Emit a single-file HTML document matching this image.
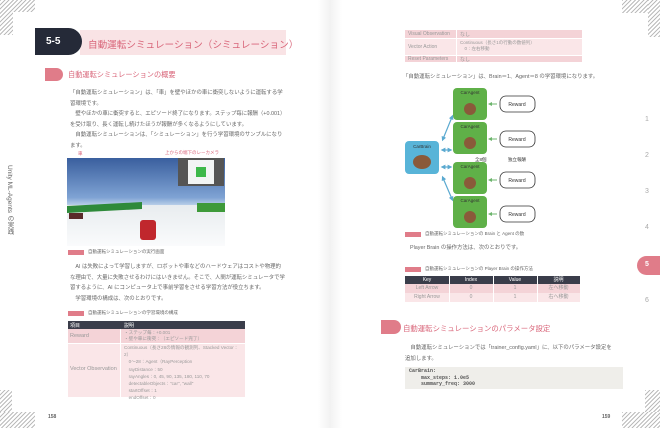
<!DOCTYPE html>
<html><head><meta charset="utf-8"><style>
*{margin:0;padding:0;box-sizing:border-box}
body{width:660px;height:428px;background:#fff;position:relative;overflow:hidden;font-family:"Liberation Sans","Noto Sans CJK JP",sans-serif;color:#777}
.a{position:absolute;white-space:nowrap}
.t{font-size:5.4px;line-height:10.5px;color:#666}
.stripe{position:absolute;background:repeating-linear-gradient(135deg,#bbb 0 1px,#fff 1px 3px)}
</style></head><body>
<div class="a" style="left:318px;top:0;width:24px;height:428px;background:linear-gradient(90deg,#fff,#f2f2f2 50%,#fff)"></div>
<div class="stripe" style="left:0;top:0;width:35px;height:12px"></div>
<div class="stripe" style="left:0;top:0;width:13px;height:35px"></div>
<div class="stripe" style="left:0;top:390px;width:12px;height:38px"></div>
<div class="stripe" style="left:0;top:412px;width:35px;height:16px"></div>
<div class="stripe" style="left:622px;top:0;width:38px;height:13px"></div>
<div class="stripe" style="left:648px;top:0;width:12px;height:37px"></div>
<div class="stripe" style="left:645px;top:390px;width:15px;height:38px"></div>
<div class="stripe" style="left:622px;top:412px;width:38px;height:16px"></div>

<!-- left page header -->
<div class="a" style="left:80px;top:30px;width:206px;height:25px;background:#f9e3e5"></div>
<div class="a" style="left:35px;top:28px;width:47px;height:27px;background:#252a38;border-radius:0 14px 14px 0"></div>
<div class="a" style="left:46px;top:36px;font-size:10px;font-weight:bold;color:#fff">5-5</div>
<div class="a" style="left:88px;top:37px;font-size:9.6px;color:#d9667a">自動運転シミュレーション（シミュレーション）</div>
<div class="a" style="left:45px;top:68px;width:18px;height:13px;background:#e07c89;border-radius:0 7px 7px 0"></div>
<div class="a" style="left:68px;top:70px;font-size:7.2px;color:#d9667a">自動運転シミュレーションの概要</div>
<div class="a t" style="left:70px;top:88px">「自動運転シミュレーション」は、「車」を壁やほかの車に衝突しないように運転する学<br>習環境です。<br>　壁やほかの車に衝突すると、エピソード終了になります。ステップ毎に報酬（+0.001）<br>を受け取り、長く運転し続けたほうが報酬が多くなるようにしています。<br>　自動運転シミュレーションは、「シミュレーション」を行う学習環境のサンプルになり<br>ます。</div>
<div class="a" style="left:78px;top:151px;font-size:4.5px;color:#d9667a">車</div>
<div class="a" style="left:165px;top:150px;font-size:4.5px;color:#d9667a">上からの端下のレーカメラ</div>
<div class="a" style="left:67px;top:158px;width:158px;height:88px;background:linear-gradient(180deg,#3a5f9e,#7fa3d4 45%,#c3d6ec 55%,#eef2f8)"></div>
<div class="a" style="left:67px;top:205px;width:158px;height:41px;background:linear-gradient(180deg,#e8ecef,#fafbfc)"></div>
<div class="a" style="left:67px;top:204px;width:75px;height:7px;background:#2e8a3a;transform:skewY(-3deg)"></div>
<div class="a" style="left:197px;top:203px;width:28px;height:9px;background:#3e9a3a"></div>
<div class="a" style="left:178px;top:158px;width:46px;height:28px;background:#555"></div>
<div class="a" style="left:188px;top:160px;width:26px;height:24px;background:#f2f4f4"></div>
<div class="a" style="left:196px;top:167px;width:10px;height:10px;background:#3db84a"></div>
<div class="a" style="left:140px;top:220px;width:16px;height:20px;background:#c0272d;border-radius:3px"></div>
<div class="a" style="left:69px;top:213px;width:14px;height:6px;background:#5a2a2a"></div>
<div class="a" style="left:68px;top:250px;width:16px;height:5px;background:#e07c89"></div>
<div class="a" style="left:88px;top:249px;font-size:4.5px;color:#666">自動運転シミュレーションの実行画面</div>
<div class="a t" style="left:70px;top:262px">　AI は失敗によって学習しますが、ロボットや車などのハードウェアはコストや物理的<br>な理由で、大量に失敗させるわけにはいきません。そこで、人間が運転シミュレータで学<br>習するように、AI にコンピュータ上で事前学習をさせる学習方法が役立ちます。<br>　学習環境の構成は、次のとおりです。</div>
<div class="a" style="left:68px;top:311px;width:16px;height:5px;background:#e07c89"></div>
<div class="a" style="left:88px;top:310px;font-size:4.5px;color:#666">自動運転シミュレーションの学習環境の構成</div>
<div class="a" style="left:68px;top:321px;width:177px;height:8px;background:#3a3d4a"></div>
<div class="a" style="left:70px;top:322px;font-size:5px;color:#fff">項目</div>
<div class="a" style="left:124px;top:322px;font-size:5px;color:#fff">説明</div>
<div class="a" style="left:68px;top:329px;width:177px;height:14px;background:#f4d3d7"></div>
<div class="a" style="left:68px;top:343px;width:177px;height:54px;background:#fae6e8"></div>
<div class="a" style="left:120px;top:329px;width:1px;height:68px;background:#fff"></div>
<div class="a" style="left:68px;top:343px;width:177px;height:1px;background:#fff"></div>
<div class="a" style="left:70px;top:333px;font-size:5.5px;color:#999">Reward</div>
<div class="a" style="left:124px;top:330px;font-size:4.6px;line-height:6px;color:#999">・ステップ毎：+0.001<br>・壁や車に衝突：（エピソード完了）</div>
<div class="a" style="left:70px;top:366px;font-size:5.5px;color:#999">Vector Observation</div>
<div class="a" style="left:124px;top:344px;font-size:4.6px;line-height:7.2px;color:#999">Continuous（長さ28の情報の観測列、Stacked Vector：<br>2）<br>　0～28：Agent（RayPerception<br>　rayDistance：50<br>　rayAngles：0, 45, 90, 135, 180, 110, 70<br>　detectableObjects："car", "wall"<br>　startOffset：1<br>　endOffset：0</div>
<div class="a" style="left:48px;top:414px;font-size:5px;font-weight:bold;color:#666">158</div>
<div class="a" style="left:4px;top:165px;font-size:6.5px;color:#666;writing-mode:vertical-rl">Unity ML-Agents の実践</div>

<!-- right page -->
<div class="a" style="left:405px;top:30px;width:177px;height:32px;background:#fae6e8"></div>
<div class="a" style="left:405px;top:30px;width:177px;height:8px;background:#f4d3d7"></div>
<div class="a" style="left:405px;top:55px;width:177px;height:7px;background:#f4d3d7"></div>
<div class="a" style="left:456px;top:30px;width:1px;height:32px;background:#fff"></div>
<div class="a" style="left:405px;top:38px;width:177px;height:1px;background:#fff"></div>
<div class="a" style="left:405px;top:55px;width:177px;height:1px;background:#fff"></div>
<div class="a" style="left:408px;top:31px;font-size:5px;color:#999">Visual Observation</div>
<div class="a" style="left:460px;top:31px;font-size:5px;color:#999">なし</div>
<div class="a" style="left:408px;top:44px;font-size:5px;color:#999">Vector Action</div>
<div class="a" style="left:460px;top:40px;font-size:4.5px;line-height:6px;color:#999">Continuous（長さ1の行動の数値列）<br>　0：左右移動</div>
<div class="a" style="left:408px;top:56px;font-size:5px;color:#999">Reset Parameters</div>
<div class="a" style="left:460px;top:56px;font-size:5px;color:#999">なし</div>
<div class="a t" style="left:403px;top:72px">「自動運転シミュレーション」は、Brain＝1、Agent＝8 の学習環境になります。</div>
<svg class="a" style="left:400px;top:85px" width="150" height="148">
<defs><marker id="m" markerWidth="4" markerHeight="4" refX="2" refY="2" orient="auto-start-reverse"><path d="M0,0L4,2L0,4z" fill="#5aa9d0"/></marker>
<marker id="g" markerWidth="4" markerHeight="4" refX="2" refY="2" orient="auto"><path d="M0,0L4,2L0,4z" fill="#6db56d"/></marker></defs>
<g fill="#5fb048"><rect x="53" y="3" width="34" height="32" rx="4"/><rect x="53" y="37" width="34" height="32" rx="4"/><rect x="53" y="77" width="34" height="32" rx="4"/><rect x="53" y="111" width="34" height="32" rx="4"/></g>
<rect x="5" y="56" width="34" height="33" rx="4" fill="#58b4d8"/>
<g fill="#8a5a3a"><circle cx="70" cy="24" r="6"/><circle cx="70" cy="58" r="6"/><circle cx="70" cy="98" r="6"/><circle cx="70" cy="132" r="6"/><ellipse cx="22" cy="77" rx="9" ry="7"/></g>
<g font-size="4.5" fill="#333" text-anchor="middle" font-family="Liberation Sans"><text x="70" y="9">CarAgent</text><text x="70" y="43">CarAgent</text><text x="70" y="83">CarAgent</text><text x="70" y="117">CarAgent</text><text x="22" y="63">CarBrain</text></g>
<g fill="#fff" stroke="#333" stroke-width="0.8"><rect x="100" y="11" width="35" height="16" rx="6"/><rect x="100" y="46" width="35" height="16" rx="6"/><rect x="100" y="87" width="35" height="16" rx="6"/><rect x="100" y="121" width="35" height="16" rx="6"/></g>
<g font-size="5" fill="#333" text-anchor="middle" font-family="Liberation Sans"><text x="117" y="21">Reward</text><text x="117" y="56">Reward</text><text x="117" y="97">Reward</text><text x="117" y="131">Reward</text></g>
<g stroke="#6db56d" stroke-width="1" marker-end="url(#g)"><line x1="97" y1="19" x2="90" y2="19"/><line x1="97" y1="54" x2="90" y2="54"/><line x1="97" y1="95" x2="90" y2="95"/><line x1="97" y1="129" x2="90" y2="129"/></g>
<g stroke="#5aa9d0" stroke-width="1.2" marker-start="url(#m)" marker-end="url(#m)"><line x1="43" y1="54" x2="52" y2="32"/><line x1="43" y1="65" x2="50" y2="65"/><line x1="43" y1="82" x2="50" y2="82"/><line x1="43" y1="93" x2="52" y2="114"/></g>
<g font-size="4.5" fill="#333" font-family="Liberation Sans,Noto Sans CJK JP"><text x="75" y="76">全8個</text><text x="108" y="76">独立報酬</text></g>
</svg>
<div class="a" style="left:405px;top:232px;width:16px;height:5px;background:#e07c89"></div>
<div class="a" style="left:425px;top:231px;font-size:4.5px;color:#666">自動運転シミュレーションの Brain と Agent の数</div>
<div class="a t" style="left:410px;top:243px">Player Brain の操作方法は、次のとおりです。</div>
<div class="a" style="left:405px;top:267px;width:16px;height:5px;background:#e07c89"></div>
<div class="a" style="left:425px;top:266px;font-size:4.5px;color:#666">自動運転シミュレーションの Player Brain の操作方法</div>
<div class="a" style="left:405px;top:276px;width:175px;height:8px;background:#3a3d4a"></div>
<div class="a" style="left:405px;top:284px;width:175px;height:9px;background:#f4d3d7"></div>
<div class="a" style="left:405px;top:293px;width:175px;height:9px;background:#fae6e8"></div>
<div class="a" style="left:405px;top:276px;display:flex;font-size:5px;line-height:8px;color:#fff;text-align:center"><div style="width:44px">Key</div><div style="width:44px">Index</div><div style="width:44px">Value</div><div style="width:43px">説明</div></div>
<div class="a" style="left:405px;top:284px;display:flex;font-size:5px;line-height:9px;color:#999;text-align:center"><div style="width:44px">Left Arrow</div><div style="width:44px">0</div><div style="width:44px">1</div><div style="width:43px">左へ移動</div></div>
<div class="a" style="left:405px;top:293px;display:flex;font-size:5px;line-height:9px;color:#999;text-align:center"><div style="width:44px">Right Arrow</div><div style="width:44px">0</div><div style="width:44px">1</div><div style="width:43px">右へ移動</div></div>
<div class="a" style="left:449px;top:276px;width:1px;height:26px;background:#fff"></div>
<div class="a" style="left:493px;top:276px;width:1px;height:26px;background:#fff"></div>
<div class="a" style="left:537px;top:276px;width:1px;height:26px;background:#fff"></div>
<div class="a" style="left:381px;top:320px;width:20px;height:14px;background:#e07c89;border-radius:0 7px 7px 0"></div>
<div class="a" style="left:403px;top:323px;font-size:7.4px;color:#d9667a">自動運転シミュレーションのパラメータ設定</div>
<div class="a t" style="left:405px;top:343px">　自動運転シミュレーションでは「trainer_config.yaml」に、以下のパラメータ設定を<br>追加します。</div>
<div class="a" style="left:405px;top:367px;width:218px;height:22px;background:#efeeea"></div>
<div class="a" style="left:409px;top:368px;font-family:'Liberation Mono',monospace;font-size:5px;line-height:6.5px;color:#555;font-weight:bold;white-space:pre">CarBrain:
    max_steps: 1.0e5
    summary_freq: 3000</div>
<div class="a" style="left:602px;top:414px;font-size:5px;font-weight:bold;color:#666">159</div>
<div class="a" style="left:645px;top:116px;font-size:7px;color:#aaa">1</div>
<div class="a" style="left:645px;top:152px;font-size:7px;color:#aaa">2</div>
<div class="a" style="left:645px;top:188px;font-size:7px;color:#aaa">3</div>
<div class="a" style="left:645px;top:224px;font-size:7px;color:#aaa">4</div>
<div class="a" style="left:637px;top:256px;width:30px;height:19px;background:#e07c89;border-radius:10px 0 0 10px"></div>
<div class="a" style="left:645px;top:261px;font-size:7px;font-weight:bold;color:#fff">5</div>
<div class="a" style="left:645px;top:297px;font-size:7px;color:#aaa">6</div>
</body></html>
